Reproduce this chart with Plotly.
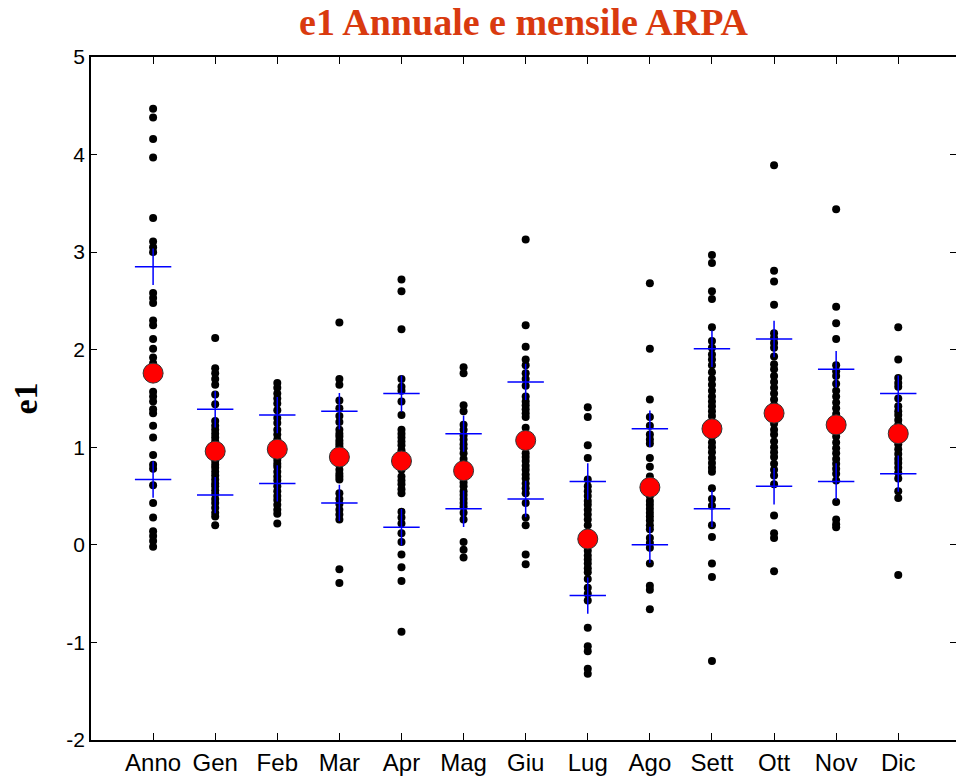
import plotly.graph_objects as go

categories = ["Anno", "Gen", "Feb", "Mar", "Apr", "Mag", "Giu", "Lug", "Ago", "Sett", "Ott", "Nov", "Dic"]

anno = [4.47, 4.38, 4.16, 3.97, 3.35, 3.11, 3.05, 3.00, 2.58, 2.53, 2.48, 2.30, 2.25, 2.11, 2.01, 1.92,
        1.86, 1.80, 1.57, 1.52, 1.47, 1.39, 1.35, 1.22, 1.10, 0.92, 0.82, 0.78, 0.61, 0.43, 0.28, 0.14,
        0.09, 0.04, -0.02]
gen = [2.12, 1.81, 1.76, 1.70, 1.64, 1.54, 1.44, 1.27, 1.22, 1.18, 1.14, 1.10, 1.06, 1.03, 0.99, 0.93,
       0.90, 0.86, 0.82, 0.79, 0.75, 0.71, 0.67, 0.63, 0.60, 0.56, 0.52, 0.47, 0.43, 0.38, 0.33, 0.29, 0.20]
feb = [1.66, 1.61, 1.55, 1.50, 1.45, 1.38, 1.30, 1.25, 1.18, 1.13, 1.08, 1.04, 1.01, 0.93, 0.87, 0.83,
       0.80, 0.75, 0.70, 0.66, 0.60, 0.55, 0.50, 0.46, 0.41, 0.36, 0.32, 0.22]
mar = [2.28, 1.70, 1.64, 1.48, 1.40, 1.32, 1.26, 1.18, 1.14, 1.11, 1.07, 1.04, 1.01, 0.97, 0.94, 0.85,
       0.82, 0.77, 0.73, 0.70, 0.67, 0.53, 0.47, 0.42, 0.36, 0.31, 0.26, -0.25, -0.39]
apr = [2.72, 2.60, 2.21, 1.70, 1.62, 1.58, 1.47, 1.33, 1.18, 1.14, 1.10, 1.06, 1.02, 0.97, 0.92, 0.82,
       0.77, 0.70, 0.66, 0.62, 0.57, 0.53, 0.34, 0.28, 0.22, 0.12, 0.03, -0.10, -0.23, -0.37, -0.89]
mag = [1.82, 1.76, 1.43, 1.37, 1.23, 1.18, 1.12, 1.08, 1.03, 0.99, 0.94, 0.88, 0.83, 0.80, 0.73, 0.69,
       0.64, 0.60, 0.55, 0.51, 0.47, 0.43, 0.39, 0.33, 0.26, 0.03, -0.05, -0.13]
giu = [3.13, 2.25, 2.03, 1.90, 1.84, 1.76, 1.70, 1.63, 1.52, 1.47, 1.43, 1.39, 1.35, 1.31, 1.20, 1.12,
       1.02, 0.94, 0.90, 0.86, 0.81, 0.77, 0.72, 0.68, 0.63, 0.58, 0.53, 0.43, 0.28, 0.20, -0.10, -0.20]
lug = [1.41, 1.31, 1.02, 0.89, 0.67, 0.60, 0.55, 0.50, 0.45, 0.41, 0.36, 0.31, 0.26, 0.20, 0.12, 0.00,
       -0.06, -0.11, -0.15, -0.19, -0.24, -0.28, -0.35, -0.44, -0.50, -0.57, -0.85, -1.04, -1.09, -1.27, -1.32]
ago = [2.68, 2.01, 1.49, 1.31, 1.22, 1.13, 1.08, 1.04, 0.89, 0.80, 0.70, 0.66, 0.50, 0.45, 0.41, 0.37,
       0.33, 0.29, 0.25, 0.20, 0.16, 0.07, 0.02, -0.03, -0.19, -0.42, -0.46, -0.66]
sett = [2.97, 2.89, 2.60, 2.52, 2.23, 2.09, 2.02, 1.95, 1.90, 1.84, 1.77, 1.70, 1.64, 1.58, 1.52, 1.47,
        1.42, 1.37, 1.32, 1.22, 1.11, 1.05, 1.00, 0.95, 0.89, 0.84, 0.79, 0.75, 0.58, 0.47, 0.40, 0.20,
        0.08, -0.19, -0.33, -1.19]
ott = [3.89, 2.81, 2.70, 2.46, 2.17, 2.12, 2.07, 2.02, 1.93, 1.85, 1.80, 1.73, 1.67, 1.61, 1.55, 1.49,
       1.43, 1.30, 1.24, 1.18, 1.13, 1.06, 1.00, 0.95, 0.90, 0.83, 0.77, 0.71, 0.62, 0.30, 0.12, 0.07, -0.27]
nov = [3.44, 2.44, 2.27, 2.11, 1.84, 1.78, 1.73, 1.65, 1.58, 1.52, 1.46, 1.40, 1.34, 1.28, 1.17, 1.11,
       1.05, 0.99, 0.94, 0.88, 0.83, 0.78, 0.73, 0.66, 0.44, 0.26, 0.21, 0.18]
dic = [2.23, 1.90, 1.71, 1.66, 1.62, 1.50, 1.42, 1.37, 1.33, 1.28, 1.23, 1.08, 1.03, 0.98, 0.93, 0.88,
       0.84, 0.79, 0.74, 0.68, 0.55, 0.48, -0.31]

series = [anno, gen, feb, mar, apr, mag, giu, lug, ago, sett, ott, nov, dic]

means = [1.76, 0.96, 0.98, 0.90, 0.86, 0.76, 1.07, 0.06, 0.59, 1.19, 1.35, 1.23, 1.14]
upper = [2.85, 1.39, 1.33, 1.37, 1.55, 1.14, 1.67, 0.65, 1.19, 2.01, 2.11, 1.80, 1.55]
lower = [0.67, 0.51, 0.63, 0.43, 0.18, 0.37, 0.47, -0.52, 0.00, 0.37, 0.60, 0.65, 0.73]

y_ticks = [-2, -1, 0, 1, 2, 3, 4, 5]

positions = list(range(1, len(categories) + 1))

xs, ys = [], []
for pos, vals in zip(positions, series):
    xs += [pos] * len(vals)
    ys += vals

fig = go.Figure()
fig.add_trace(go.Scatter(x=xs, y=ys, mode="markers",
                         marker=dict(color="black", size=8, line=dict(width=0)),
                         showlegend=False, hoverinfo="skip"))
fig.add_trace(go.Scatter(x=positions + positions, y=upper + lower, mode="markers",
                         marker=dict(symbol="cross-thin", size=26,
                                     line=dict(color="#0000ff", width=1.5)),
                         showlegend=False, hoverinfo="skip"))
fig.add_trace(go.Scatter(x=positions, y=means, mode="markers",
                         marker=dict(color="#ff0000", size=20, line=dict(color="#333333", width=1)),
                         showlegend=False, hoverinfo="skip"))
# invisible trace to carry the right-side y ticks
fig.add_trace(go.Scatter(x=[positions[0]], y=[means[0]], yaxis="y2", mode="markers",
                         marker=dict(opacity=0), showlegend=False, hoverinfo="skip"))

fig.update_layout(
    width=956, height=780,
    margin=dict(l=91, r=0, t=57, b=40),
    paper_bgcolor="white", plot_bgcolor="white",
    title=dict(text="<b>e1 Annuale e mensile ARPA</b>", x=0.5, xref="paper", xanchor="center",
               y=1 - 22 / 780, yanchor="middle",
               font=dict(family="Liberation Serif", size=38, color="#d93a0f")),
    xaxis=dict(range=[0, 13.93], tickvals=positions, ticktext=categories,
               showgrid=False, zeroline=False, showline=True, linecolor="black", linewidth=1.5,
               mirror="ticks", ticks="inside", ticklen=7, tickcolor="black", tickwidth=1,
               tickfont=dict(family="Liberation Sans", size=24, color="black")),
    yaxis=dict(range=[-2, 5], tickvals=y_ticks, ticktext=[str(v) for v in y_ticks],
               showgrid=False, zeroline=False, showline=True, linecolor="black", linewidth=1.5,
               ticks="inside", ticklen=6, tickcolor="black", tickwidth=1,
               tickfont=dict(family="Liberation Sans", size=21, color="black")),
    yaxis2=dict(range=[-2, 5], tickvals=y_ticks, overlaying="y", side="right",
                showgrid=False, zeroline=False, showline=False, showticklabels=False,
                ticks="inside", ticklen=6, tickcolor="black", tickwidth=1),
    annotations=[dict(text="<b>e1</b>", x=0, xref="paper", y=0.5, yref="paper",
                      xanchor="center", yanchor="middle", xshift=-66, textangle=-90,
                      showarrow=False,
                      font=dict(family="Liberation Serif", size=34, color="black"))],
)

fig.write_html("out.html", config={"displayModeBar": False},
               post_script="document.body.style.margin='0';")
